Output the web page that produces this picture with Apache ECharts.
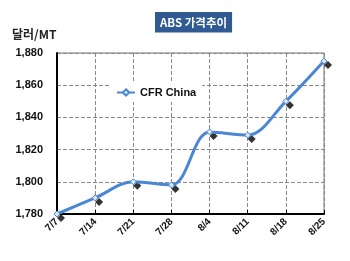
<!DOCTYPE html>
<html><head><meta charset="utf-8">
<script src="https://cdn.jsdelivr.net/npm/echarts@6/dist/echarts.min.js"></script>
<style>html,body{margin:0;padding:0;background:#fff}#c{width:350px;height:261px}</style>
</head><body><div id="c"></div>
<script>
var categories = ['7/7','7/14','7/21','7/28','8/4','8/11','8/18','8/25'];
var cfrChina = [1780, 1790, 1800, 1798, 1831, 1829, 1850, 1875];
var yTicks = [1780, 1800, 1820, 1840, 1860, 1880];
var seriesName = 'CFR China';
var titleText = 'ABS 가격추이';
var unitText = '달러/MT';

var chart = echarts.init(document.getElementById('c'));
chart.setOption({
  animation: false,
  title: {
    text: titleText, left: 155, top: 12,
    backgroundColor: '#2F5A92', padding: [5, 5, 4, 5],
    textStyle: {color: '#fff', fontSize: 11.5, fontWeight: 'bold', fontFamily: 'Noto Sans CJK KR'}
  },
  graphic: [{
    type: 'text', left: 12, top: 28,
    style: {text: unitText, fontSize: 12, fontWeight: 'bold', fill: '#222', fontFamily: 'Noto Sans CJK KR'}
  }],
  legend: {
    data: [seriesName], left: 110, top: 83,
    backgroundColor: '#fff', padding: [4, 6, 4, 6],
    itemWidth: 18, itemHeight: 8, itemGap: 2,
    textStyle: {fontSize: 11, fontWeight: 'bold', color: '#111', fontFamily: 'Arial'}
  },
  grid: {left: 57, right: 26, top: 53, bottom: 47, show: true, borderColor: '#777', borderWidth: 1},
  xAxis: {
    type: 'category', data: categories, boundaryGap: false,
    axisLine: {lineStyle: {color: '#000', width: 2}},
    axisTick: {show: true, inside: true, length: 4, lineStyle: {color: '#000'}},
    axisLabel: {rotate: 45, fontSize: 10, fontWeight: 'bold', color: '#111', margin: 6, fontFamily: 'Arial'},
    splitLine: {show: true, lineStyle: {color: '#888', type: 'dashed'}}
  },
  yAxis: {
    type: 'value', min: yTicks[0], max: yTicks[yTicks.length - 1], interval: 20,
    axisLine: {show: true, lineStyle: {color: '#000', width: 2}},
    axisTick: {show: false},
    axisLabel: {fontSize: 11, fontWeight: 'bold', color: '#111', margin: 14, fontFamily: 'Arial',
      formatter: function (v) { return v.toLocaleString('en-US'); }},
    splitLine: {show: true, lineStyle: {color: '#888', type: 'dashed'}}
  },
  series: [{
    name: seriesName, type: 'line', data: cfrChina, smooth: 0.35,
    lineStyle: {color: '#4A86D6', width: 3},
    itemStyle: {color: '#DDE8F7', borderColor: '#4A86D6', borderWidth: 1},
    symbol: 'diamond', symbolSize: 6, showSymbol: true, z: 3
  }, {
    name: 'shadow', type: 'scatter', data: cfrChina,
    symbol: 'diamond', symbolSize: 8, symbolOffset: [4, 4],
    itemStyle: {color: '#000'}, z: 2, silent: true
  }]
});
</script></body></html>
